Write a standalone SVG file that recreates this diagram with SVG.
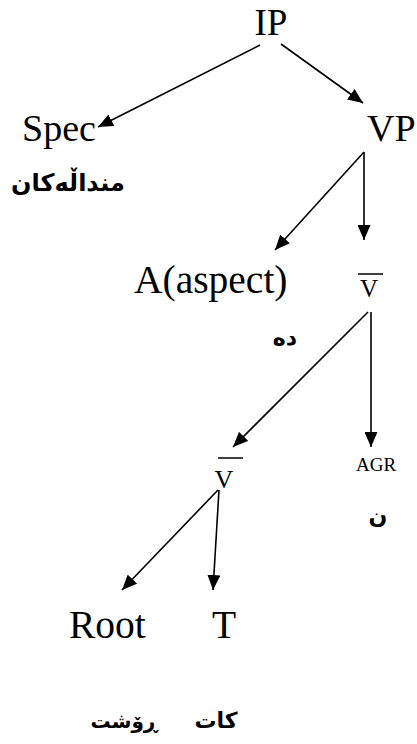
<svg xmlns="http://www.w3.org/2000/svg" width="417" height="744" viewBox="0 0 417 744">
<style>
.lat{font-family:"Liberation Serif","Times New Roman",serif;font-size:38px;fill:#000}
.big{font-size:39.5px}
.sm{font-family:"Liberation Serif","Times New Roman",serif;fill:#000}
.ar{font-family:"DejaVu Sans",sans-serif;font-weight:bold;font-size:22px;fill:#000}
.e{stroke:#000;stroke-width:1.6;fill:none}
.bar{stroke:#000;stroke-width:1.5}
</style>
<defs>
<marker id="ah" markerUnits="userSpaceOnUse" markerWidth="16" markerHeight="13" refX="15" refY="6.5" orient="auto">
<path d="M0,0 L15,6.5 L0,13 z" fill="#000"/>
</marker>
</defs>
<g id="connectors">
<line class="e" x1="260" y1="45" x2="98" y2="127" marker-end="url(#ah)"/>
<line class="e" x1="281" y1="44" x2="363" y2="103" marker-end="url(#ah)"/>
<line class="e" x1="364" y1="152" x2="275" y2="250" marker-end="url(#ah)"/>
<line class="e" x1="364" y1="152" x2="364" y2="240" marker-end="url(#ah)"/>
<line class="e" x1="368" y1="312" x2="233" y2="447" marker-end="url(#ah)"/>
<line class="e" x1="371" y1="312" x2="371" y2="447" marker-end="url(#ah)"/>
<line class="e" x1="218" y1="490" x2="122" y2="590" marker-end="url(#ah)"/>
<line class="e" x1="219" y1="490" x2="213" y2="590" marker-end="url(#ah)"/>
</g>
<g id="IP"><text class="lat" x="271" y="35" text-anchor="middle" style="font-size:37px">IP</text></g>
<g id="Spec"><text class="lat" x="22" y="141">Spec</text>
<text class="ar" x="68" y="191" text-anchor="middle" style="font-size:24px">منداڵەکان</text></g>
<g id="VP"><text class="lat" x="367" y="141">VP</text></g>
<g id="A"><text class="lat big" x="134" y="293">A(aspect)</text>
<text class="ar" x="285" y="345" text-anchor="middle">دە</text></g>
<g id="Vbar1"><line class="bar" x1="358" y1="274" x2="383" y2="274"/>
<text class="sm" x="369" y="297" font-size="25" text-anchor="middle">V</text></g>
<g id="AGR"><text class="sm" x="356" y="471" font-size="19">AGR</text>
<text class="ar" x="378" y="523" text-anchor="middle">ن</text></g>
<g id="Vbar2"><line class="bar" x1="218" y1="458" x2="243" y2="458"/>
<text class="sm" x="224" y="488" font-size="26" text-anchor="middle">V</text></g>
<g id="Root"><text class="lat big" x="69" y="638">Root</text>
<text class="ar" x="124" y="728" text-anchor="middle" style="font-size:20px">ڕۆشت</text></g>
<g id="T"><text class="lat big" x="212" y="638">T</text>
<text class="ar" x="216" y="728" text-anchor="middle">کات</text></g>
</svg>
